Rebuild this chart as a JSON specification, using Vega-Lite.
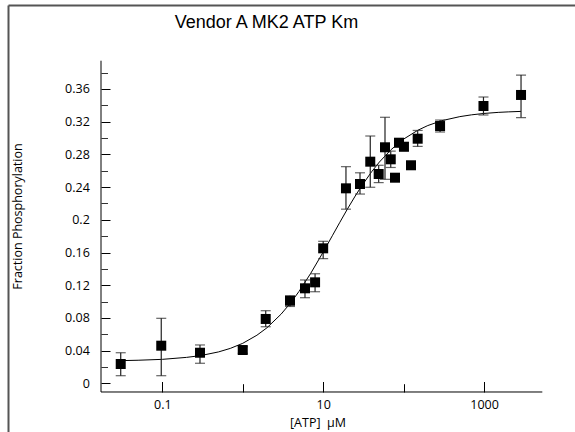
{
  "$schema": "https://vega.github.io/schema/vega-lite/v6.json",
  "width": 567,
  "height": 427,
  "autosize": {"type": "none"},
  "padding": {"left": 8, "top": 5, "right": 0, "bottom": 0},
  "background": "white",
  "config": {
    "view": {"stroke": null},
    "axis": {"grid": false, "labelFont": "Open Sans", "titleFont": "Open Sans", "labelColor": "black", "titleColor": "black", "titleFontWeight": "normal", "labelFontSize": 12.5, "titleFontSize": 12.5}
  },
  "datasets": {
    "pts": [
      {"atp": 0.0304, "frac": 0.0236, "lo": 0.0093, "hi": 0.0374},
      {"atp": 0.097, "frac": 0.046, "lo": 0.0093, "hi": 0.0795},
      {"atp": 0.294, "frac": 0.0374, "lo": 0.0245, "hi": 0.0469},
      {"atp": 1.0, "frac": 0.0407, "lo": 0.0367, "hi": 0.0447},
      {"atp": 1.93, "frac": 0.0787, "lo": 0.0692, "hi": 0.0888},
      {"atp": 3.87, "frac": 0.101, "lo": 0.094, "hi": 0.107},
      {"atp": 5.94, "frac": 0.1162, "lo": 0.1047, "hi": 0.1264},
      {"atp": 7.93, "frac": 0.1235, "lo": 0.112, "hi": 0.134},
      {"atp": 10.0, "frac": 0.1651, "lo": 0.1525, "hi": 0.1737},
      {"atp": 19.2, "frac": 0.2385, "lo": 0.213, "hi": 0.265},
      {"atp": 28.7, "frac": 0.2438, "lo": 0.2315, "hi": 0.2575},
      {"atp": 38.5, "frac": 0.2711, "lo": 0.2398, "hi": 0.3025},
      {"atp": 49, "frac": 0.256, "lo": 0.2455, "hi": 0.2667},
      {"atp": 58.7, "frac": 0.2887, "lo": 0.2495, "hi": 0.3254},
      {"atp": 69.2, "frac": 0.274, "lo": 0.264, "hi": 0.284},
      {"atp": 78.2, "frac": 0.2515, "lo": 0.2485, "hi": 0.2545},
      {"atp": 87.7, "frac": 0.2943, "lo": 0.2893, "hi": 0.2993},
      {"atp": 101, "frac": 0.2894, "lo": 0.2844, "hi": 0.2944},
      {"atp": 123.6, "frac": 0.2667, "lo": 0.2637, "hi": 0.2697},
      {"atp": 149.6, "frac": 0.2992, "lo": 0.2898, "hi": 0.3093},
      {"atp": 284, "frac": 0.3147, "lo": 0.3074, "hi": 0.322},
      {"atp": 984, "frac": 0.3392, "lo": 0.3282, "hi": 0.3502},
      {"atp": 2884, "frac": 0.3527, "lo": 0.325, "hi": 0.377}
    ],
    "curve": [
      {"atp": 0.03, "frac": 0.0277},
      {"atp": 0.05, "frac": 0.0282},
      {"atp": 0.1, "frac": 0.0293},
      {"atp": 0.2, "frac": 0.0317},
      {"atp": 0.3, "frac": 0.0339},
      {"atp": 0.5, "frac": 0.0384},
      {"atp": 0.7, "frac": 0.0427},
      {"atp": 1, "frac": 0.0489},
      {"atp": 1.5, "frac": 0.0588},
      {"atp": 2, "frac": 0.0679},
      {"atp": 3, "frac": 0.0846},
      {"atp": 4, "frac": 0.0992},
      {"atp": 5, "frac": 0.1123},
      {"atp": 7, "frac": 0.1345},
      {"atp": 10, "frac": 0.1605},
      {"atp": 13, "frac": 0.1805},
      {"atp": 16, "frac": 0.1964},
      {"atp": 20, "frac": 0.2131},
      {"atp": 25, "frac": 0.229},
      {"atp": 30, "frac": 0.2412},
      {"atp": 40, "frac": 0.2587},
      {"atp": 50, "frac": 0.2707},
      {"atp": 70, "frac": 0.2859},
      {"atp": 100, "frac": 0.2987},
      {"atp": 150, "frac": 0.3095},
      {"atp": 200, "frac": 0.3153},
      {"atp": 300, "frac": 0.3213},
      {"atp": 500, "frac": 0.3262},
      {"atp": 700, "frac": 0.3284},
      {"atp": 1000, "frac": 0.3301},
      {"atp": 1500, "frac": 0.3314},
      {"atp": 2000, "frac": 0.332},
      {"atp": 2884, "frac": 0.3326}
    ]
  },
  "resolve": {"axis": {"x": "independent", "y": "independent"}},
  "layer": [
    {
      "data": {"name": "curve"},
      "mark": {"type": "line", "color": "black", "strokeWidth": 1},
      "encoding": {
        "x": {"field": "atp", "type": "quantitative",
          "scale": {"type": "log", "domain": [0.001206, 13520], "nice": false},
          "axis": {"orient": "bottom", "offset": -40, "values": [0.1, 10, 1000], "format": "~g", "domain": false, "tickSize": -10.5, "tickColor": "black", "labelPadding": 26.8, "labelBaseline": "alphabetic", "labelFlush": false, "labelOverlap": false,
            "title": "[ATP]\u00a0\u00a0µM", "titleX": 309.5, "titleY": 34.7, "titleBaseline": "alphabetic", "titleAlign": "center"}},
        "y": {"field": "frac", "type": "quantitative",
          "scale": {"domain": [-0.05957, 0.46275], "nice": false, "zero": false},
          "axis": {"orient": "left", "offset": -93, "values": [0, 0.04, 0.08, 0.12, 0.16, 0.2, 0.24, 0.28, 0.32, 0.36], "format": "~g", "domain": false, "tickSize": -9, "tickColor": "black", "labelPadding": 20.7, "labelOverlap": false,
            "title": "Fraction Phosphorylation", "titleX": -79.4, "titleY": 211, "titleBaseline": "alphabetic", "titleAngle": 270, "titleAlign": "center"}}
      }
    },
    {
      "data": {"name": "pts"},
      "mark": {"type": "errorbar", "color": "#222", "thickness": 1.2, "ticks": {"size": 10}},
      "encoding": {
        "x": {"field": "atp", "type": "quantitative", "axis": null},
        "y": {"field": "lo", "type": "quantitative", "axis": null},
        "y2": {"field": "hi"}
      }
    },
    {
      "data": {"name": "pts"},
      "mark": {"type": "point", "shape": "square", "filled": true, "size": 100, "color": "black", "opacity": 1},
      "encoding": {
        "x": {"field": "atp", "type": "quantitative",
          "axis": {"orient": "bottom", "offset": -40, "values": [1, 100], "domain": false, "labels": false, "tickSize": -8.3, "tickColor": "black", "title": null}},
        "y": {"field": "frac", "type": "quantitative",
          "axis": {"orient": "left", "offset": -93, "values": [0.02, 0.06, 0.1, 0.14, 0.18, 0.22, 0.26, 0.3, 0.34, 0.38], "domain": false, "labels": false, "tickSize": -6.5, "tickColor": "#333", "title": null}}
      }
    },
    {
      "data": {"values": [{}]},
      "mark": {"type": "rule", "color": "black", "strokeWidth": 1},
      "encoding": {
        "x": {"datum": 0.01729, "type": "quantitative",
          "axis": {"orient": "top", "offset": 0, "domain": true, "domainColor": "#555", "domainWidth": 2, "ticks": false, "labels": false,
            "title": "Vendor A MK2 ATP Km", "titleFont": "Liberation Sans", "titleFontSize": 18, "titleFontWeight": "normal", "titleColor": "black", "titleX": 258, "titleY": 22, "titleBaseline": "alphabetic", "titleAlign": "center"}},
        "x2": {"datum": 5304},
        "y": {"datum": -0.01064, "type": "quantitative",
          "axis": {"orient": "left", "offset": 0, "domain": true, "domainColor": "#555", "domainWidth": 2, "ticks": false, "labels": false, "title": null}}
      }
    },
    {
      "data": {"values": [{}]},
      "mark": {"type": "rule", "color": "black", "strokeWidth": 1},
      "encoding": {
        "x": {"datum": 0.01729, "type": "quantitative", "axis": null},
        "y": {"datum": -0.01064, "type": "quantitative", "axis": null},
        "y2": {"datum": 0.3946}
      }
    }
  ]
}
